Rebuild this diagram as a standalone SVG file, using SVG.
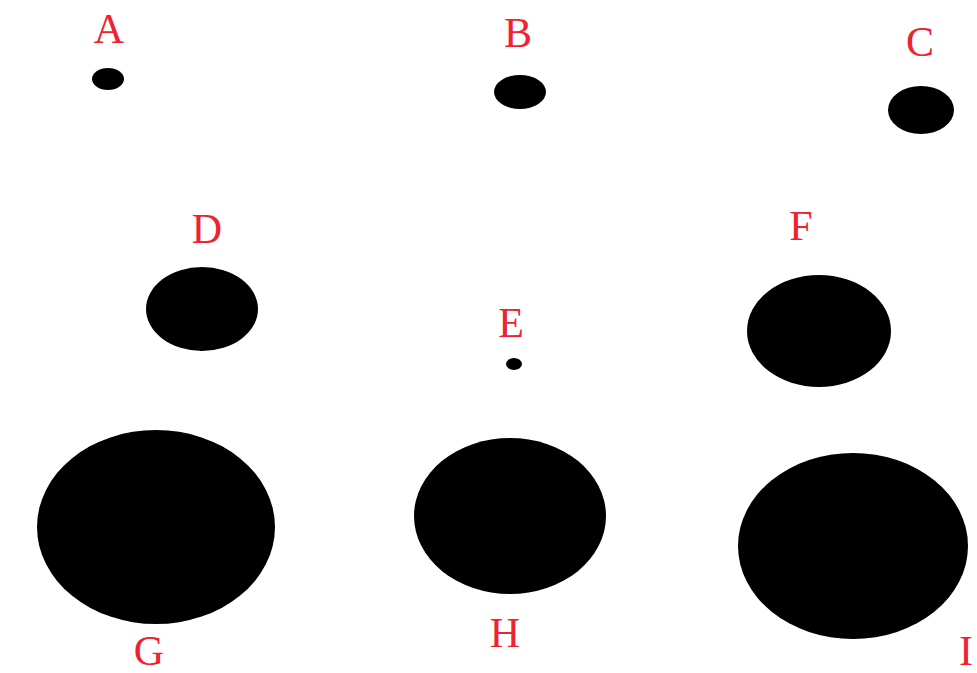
<svg xmlns="http://www.w3.org/2000/svg" width="977" height="673" viewBox="0 0 977 673">
<style>
.lbl{font-family:"Liberation Serif",serif;font-size:42px;fill:#ee2230;text-anchor:middle}
.dot{fill:#000}
</style>
<rect width="977" height="673" fill="#fff"/>
<g id="A"><ellipse class="dot" cx="108" cy="79" rx="16" ry="11"/><text class="lbl" x="109" y="43">A</text></g>
<g id="B"><ellipse class="dot" cx="520" cy="92" rx="26" ry="17"/><text class="lbl" x="518" y="47">B</text></g>
<g id="C"><ellipse class="dot" cx="921" cy="110" rx="33" ry="24"/><text class="lbl" x="920" y="56">C</text></g>
<g id="D"><ellipse class="dot" cx="202" cy="309" rx="56" ry="42"/><text class="lbl" x="207" y="243">D</text></g>
<g id="E"><ellipse class="dot" cx="514" cy="364" rx="8" ry="6"/><text class="lbl" x="511" y="337">E</text></g>
<g id="F"><ellipse class="dot" cx="819" cy="331" rx="72" ry="56"/><text class="lbl" x="801" y="240">F</text></g>
<g id="G"><ellipse class="dot" cx="156" cy="527" rx="119" ry="97"/><text class="lbl" x="149" y="665">G</text></g>
<g id="H"><ellipse class="dot" cx="510" cy="516" rx="96" ry="78"/><text class="lbl" x="505" y="647">H</text></g>
<g id="I"><ellipse class="dot" cx="853" cy="546" rx="115" ry="93"/><text class="lbl" x="966" y="665">I</text></g>
</svg>
